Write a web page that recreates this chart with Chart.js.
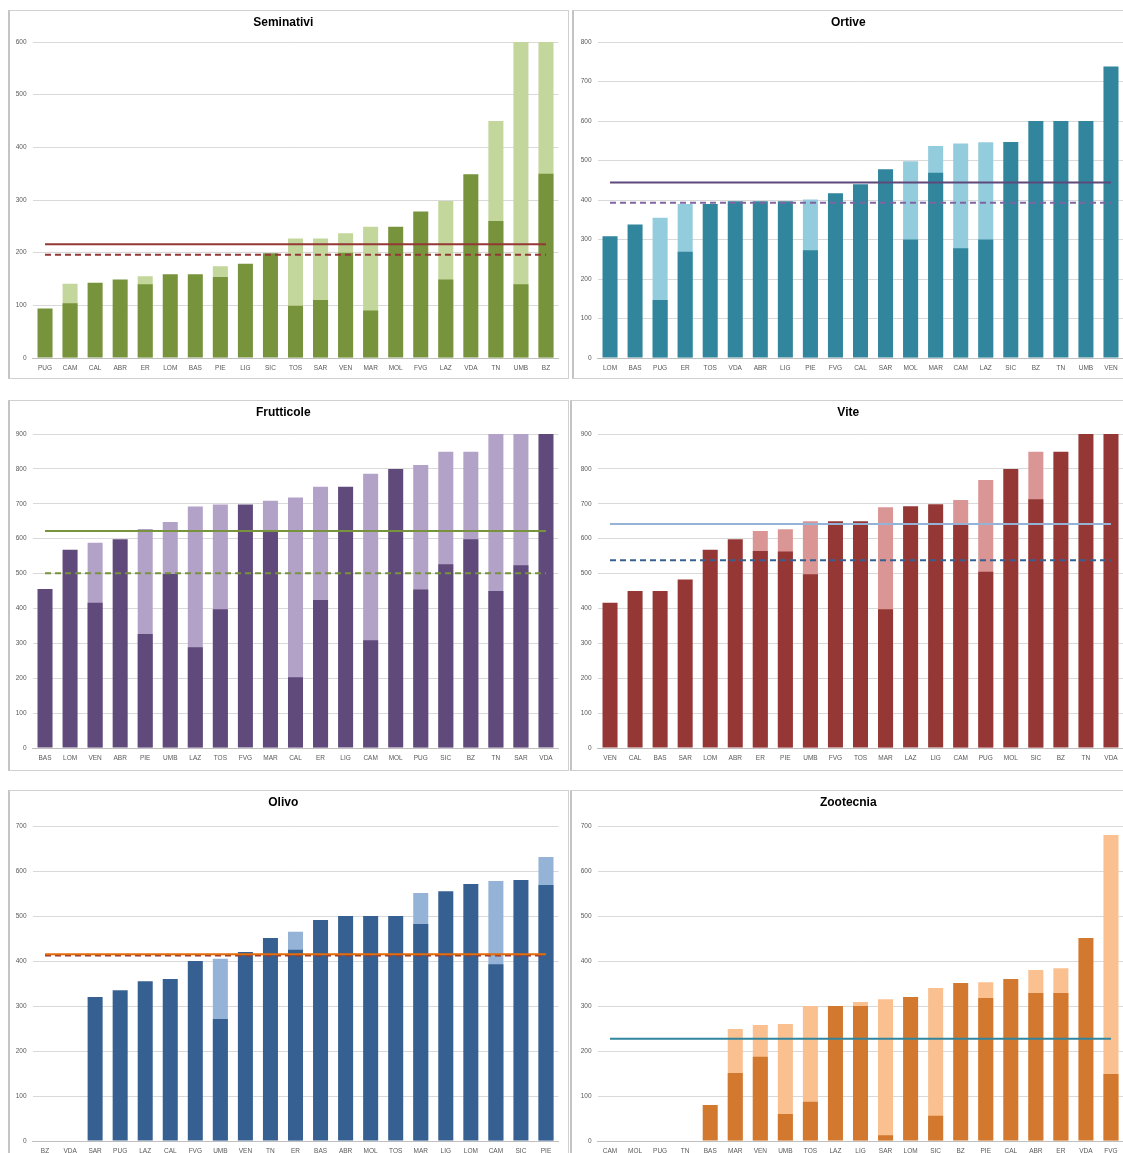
<!DOCTYPE html>
<html><head><meta charset="utf-8">
<script src="https://cdn.jsdelivr.net/npm/chart.js@4"></script>
<style>
html,body{margin:0;padding:0;background:#fff;overflow:hidden;width:1123px;height:1153px;position:relative;}
.panel{position:absolute;border:1px solid #d0d0d0;box-sizing:border-box;border-left:2px solid #c4c4c4;}
canvas{position:absolute;}
</style></head><body>
<script>
// ---------- Seminativi ----------
const semCategories = ["PUG","CAM","CAL","ABR","ER","LOM","BAS","PIE","LIG","SIC","TOS","SAR","VEN","MAR","MOL","FVG","LAZ","VDA","TN","UMB","BZ"];
const semDark  = [94,104,143,149,140,159,159,154,179,199,99,110,200,90,249,278,149,349,260,140,350];
const semLight = [null,141,null,null,155,null,null,174,null,null,227,227,237,249,null,null,298,null,450,600,600];
const semAvgSolid = 216, semAvgDashed = 196;
const semTicks = [0,100,200,300,400,500,600];

// ---------- Ortive ----------
const ortCategories = ["LOM","BAS","PUG","ER","TOS","VDA","ABR","LIG","PIE","FVG","CAL","SAR","MOL","MAR","CAM","LAZ","SIC","BZ","TN","UMB","VEN"];
const ortDark  = [308,338,147,269,390,397,397,397,273,417,440,478,300,469,278,300,547,600,600,600,738];
const ortLight = [null,null,355,390,null,null,null,null,401,null,null,null,498,537,543,546,null,null,null,null,null];
const ortAvgSolid = 444, ortAvgDashed = 393;
const ortTicks = [0,100,200,300,400,500,600,700,800];

// ---------- Frutticole ----------
const fruCategories = ["BAS","LOM","VEN","ABR","PIE","UMB","LAZ","TOS","FVG","MAR","CAL","ER","LIG","CAM","MOL","PUG","SIC","BZ","TN","SAR","VDA"];
const fruDark  = [456,568,416,598,327,499,289,398,698,619,203,424,749,309,800,454,527,598,450,524,900];
const fruLight = [null,null,588,null,628,648,692,698,null,709,718,749,null,786,null,811,849,849,900,900,null];
const fruAvgSolid = 622, fruAvgDashed = 501;
const fruTicks = [0,100,200,300,400,500,600,700,800,900];

// ---------- Vite ----------
const vitCategories = ["VEN","CAL","BAS","SAR","LOM","ABR","ER","PIE","UMB","FVG","TOS","MAR","LAZ","LIG","CAM","PUG","MOL","SIC","BZ","TN","VDA"];
const vitDark  = [416,450,450,483,568,598,565,563,498,650,650,398,693,699,644,505,800,713,849,900,900];
const vitLight = [null,null,null,null,null,null,622,627,650,null,null,690,null,null,711,768,null,849,null,null,null];
const vitAvgSolid = 642, vitAvgDashed = 538;
const vitTicks = [0,100,200,300,400,500,600,700,800,900];

// ---------- Olivo ----------
const oliCategories = ["BZ","VDA","SAR","PUG","LAZ","CAL","FVG","UMB","VEN","TN","ER","BAS","ABR","MOL","TOS","MAR","LIG","LOM","CAM","SIC","PIE"];
const oliDark  = [0,0,320,335,355,360,400,271,420,451,425,491,500,500,500,482,555,571,393,580,569];
const oliLight = [null,null,null,null,null,null,null,405,null,null,465,null,null,null,null,551,null,null,578,null,631];
const oliAvgSolid = 415, oliAvgDashed = 412;
const oliTicks = [0,100,200,300,400,500,600,700];

// ---------- Zootecnia ----------
const zooCategories = ["CAM","MOL","PUG","TN","BAS","MAR","VEN","UMB","TOS","LAZ","LIG","SAR","LOM","SIC","BZ","PIE","CAL","ABR","ER","VDA","FVG"];
const zooDark  = [0,0,0,0,80,151,187,60,87,300,300,13,320,56,351,318,360,329,329,451,149];
const zooLight = [null,null,null,null,null,249,258,260,300,null,309,315,null,340,null,353,null,380,384,null,680];
const zooAvgSolid = 227;
const zooTicks = [0,100,200,300,400,500,600,700];

// ---------- layout (positions / styles only) ----------
const panels = [
  {title:"Seminativi", cats:semCategories, dark:semDark, light:semLight, solid:semAvgSolid, dashed:semAvgDashed, ticks:semTicks,
   left:8, top:10, w:560, h:368, chartTop:32, chartBottom:348, box:{l:8,t:10,w:561,h:369},
   cDark:"#77933c", cLight:"#c3d69b", cSolid:"#953735", cDashed:"#953735"},
  {title:"Ortive", cats:ortCategories, dark:ortDark, light:ortLight, solid:ortAvgSolid, dashed:ortAvgDashed, ticks:ortTicks,
   left:573, top:10, w:560, h:368, chartTop:32, chartBottom:348, box:{l:572,t:10,w:570,h:369},
   cDark:"#31859c", cLight:"#93cddd", cSolid:"#5f497a", cDashed:"#8064a2"},
  {title:"Frutticole", cats:fruCategories, dark:fruDark, light:fruLight, solid:fruAvgSolid, dashed:fruAvgDashed, ticks:fruTicks,
   left:8, top:400, w:560, h:370, chartTop:34, chartBottom:348, box:{l:8,t:400,w:561,h:371},
   cDark:"#604a7b", cLight:"#b3a2c7", cSolid:"#77933c", cDashed:"#77933c"},
  {title:"Vite", cats:vitCategories, dark:vitDark, light:vitLight, solid:vitAvgSolid, dashed:vitAvgDashed, ticks:vitTicks,
   left:573, top:400, w:560, h:370, chartTop:34, chartBottom:348, box:{l:570,t:400,w:570,h:371},
   cDark:"#953735", cLight:"#d99694", cSolid:"#95b3d7", cDashed:"#376092"},
  {title:"Olivo", cats:oliCategories, dark:oliDark, light:oliLight, solid:oliAvgSolid, dashed:oliAvgDashed, ticks:oliTicks,
   left:8, top:790, w:560, h:375, chartTop:36, chartBottom:351, box:{l:8,t:790,w:561,h:380},
   cDark:"#376092", cLight:"#95b3d7", cSolid:"#e46c0a", cDashed:"#953735"},
  {title:"Zootecnia", cats:zooCategories, dark:zooDark, light:zooLight, solid:zooAvgSolid, dashed:null, ticks:zooTicks,
   left:573, top:790, w:560, h:375, chartTop:36, chartBottom:351, box:{l:570,t:790,w:570,h:380},
   cDark:"#d2782f", cLight:"#fac090", cSolid:"#31859c", cDashed:null}
];

panels.forEach((p, idx) => {
  const box = document.createElement('div');
  box.className = 'panel';
  Object.assign(box.style, {left:p.box.l+'px', top:p.box.t+'px', width:p.box.w+'px', height:p.box.h+'px'});
  document.body.appendChild(box);

  const cv = document.createElement('canvas');
  cv.width = p.w; cv.height = p.h;
  Object.assign(cv.style, {left:p.left+'px', top:p.top+'px', width:p.w+'px', height:p.h+'px'});
  document.body.appendChild(cv);

  const first = p.cats[0], last = p.cats[p.cats.length-1];
  const datasets = [
    {type:'bar', label:'base', data:p.dark, backgroundColor:p.cDark, grouped:false, order:1,
     barPercentage:0.6, categoryPercentage:1.0, borderWidth:0},
    {type:'bar', label:'totale', data:p.light, backgroundColor:p.cLight, grouped:false, order:2,
     barPercentage:0.6, categoryPercentage:1.0, borderWidth:0},
    {type:'line', label:'media', data:[{x:first,y:p.solid},{x:last,y:p.solid}], borderColor:p.cSolid,
     borderWidth:2, pointRadius:0, fill:false, order:0}
  ];
  if (p.dashed !== null) {
    datasets.push({type:'line', label:'mediana', data:[{x:first,y:p.dashed},{x:last,y:p.dashed}], borderColor:p.cDashed,
     borderWidth:2, borderDash:[6,4], pointRadius:0, fill:false, order:0});
  }
  const maxV = p.ticks[p.ticks.length-1];
  new Chart(cv, {
    data: {labels:p.cats, datasets},
    options: {
      responsive:false, animation:false, devicePixelRatio:1,
      layout:{padding:{left:0, right:9.5, top:0, bottom:p.h - p.chartBottom - 20}},
      plugins:{
        legend:{display:false}, tooltip:{enabled:false},
        title:{display:true, text:p.title, color:'#000',
          font:{family:'"Liberation Sans", Arial, sans-serif', size:12, weight:'bold'},
          padding:{top:5, bottom:p.chartTop - 5 - 14.4}}
      },
      scales:{
        x:{type:'category', offset:true,
           grid:{display:false, drawTicks:false},
           border:{display:true, color:'#bfbfbf'},
           ticks:{autoSkip:false, maxRotation:0, minRotation:0, padding:6, color:'#595959',
             font:{family:'"Liberation Sans", Arial, sans-serif', size:6.5}},
           afterFit:(s)=>{s.height = 20;}},
        y:{min:0, max:maxV, 
           afterBuildTicks:(s)=>{s.ticks = p.ticks.map(v=>({value:v}));},
           grid:{color:'#d9d9d9', drawTicks:false},
           border:{display:false},
           ticks:{padding:6, color:'#595959',
             font:{family:'"Liberation Sans", Arial, sans-serif', size:6.5}},
           afterFit:(s)=>{s.width = 24.5;}}
      }
    }
  });
});
</script>
</body></html>
